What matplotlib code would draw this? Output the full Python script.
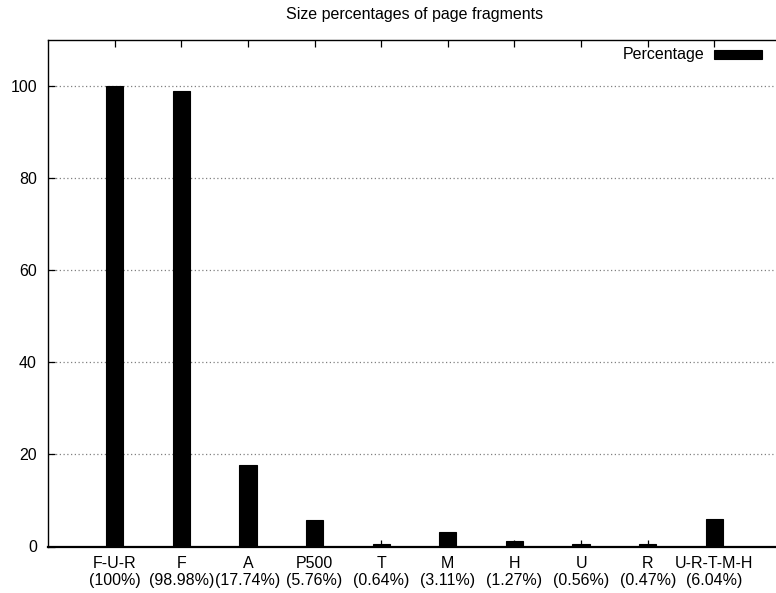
import matplotlib
matplotlib.use("Agg")
import matplotlib.pyplot as plt
from matplotlib.patches import Rectangle

categories = ["F-U-R", "F", "A", "P500", "T", "M", "H", "U", "R", "U-R-T-M-H"]
values = [100, 98.98, 17.74, 5.76, 0.64, 3.11, 1.27, 0.56, 0.47, 6.04]
pct_labels = ["(100%)", "(98.98%)", "(17.74%)", "(5.76%)", "(0.64%)",
              "(3.11%)", "(1.27%)", "(0.56%)", "(0.47%)", "(6.04%)"]
yticks = [0, 20, 40, 60, 80, 100]
title = "Size percentages of page fragments"
legend_label = "Percentage"

plt.rcParams['font.family'] = ['Liberation Sans', 'DejaVu Sans']
FS = 11.5

W, H = 776, 593
fig = plt.figure(figsize=(W / 100, H / 100), dpi=100)
left, right, top, bottom = 48, 781, 40, 546.5
ax = fig.add_axes([left / W, (H - bottom) / H, (right - left) / W, (bottom - top) / H])

xs = list(range(1, len(categories) + 1))
ax.bar(xs, values, width=0.26, color="black", edgecolor="black", linewidth=0.8, zorder=2)

ax.set_xlim(0, 11)
ax.set_ylim(0, 110)
ax.set_yticks(yticks)
ax.set_yticklabels([str(v) for v in yticks], fontsize=FS)
ax.set_xticks(xs)
ax.set_xticklabels([f"{c}\n{p}" for c, p in zip(categories, pct_labels)],
                   fontsize=FS, linespacing=1.15)
ax.tick_params(axis="both", direction="in", length=5, width=0.9,
               top=True, right=False, colors="black")
ax.tick_params(axis="y", pad=8)
ax.tick_params(axis="x", pad=7)
ax.set_axisbelow(False)
for s in ax.spines.values():
    s.set_linewidth(1.0)
ax.spines["right"].set_visible(False)
ax.spines["bottom"].set_linewidth(1.6)
ax.spines["bottom"].set_zorder(4)

for y in yticks[1:]:
    ax.axhline(y, color="#808080", linestyle=(0, (1, 2)), linewidth=0.9, zorder=1)

fig.text((left + right) / 2 / W, 1 - 14 / H, title, ha="center", va="center", fontsize=FS)

# legend
fig.text(704 / W, 1 - 55 / H, legend_label, ha="right", va="center", fontsize=FS)
fig.patches.append(Rectangle((714 / W, 1 - 59 / H), 48 / W, 9 / H,
                             transform=fig.transFigure, facecolor="black",
                             edgecolor="black", linewidth=0.8))

fig.savefig("out.png", dpi=100)
